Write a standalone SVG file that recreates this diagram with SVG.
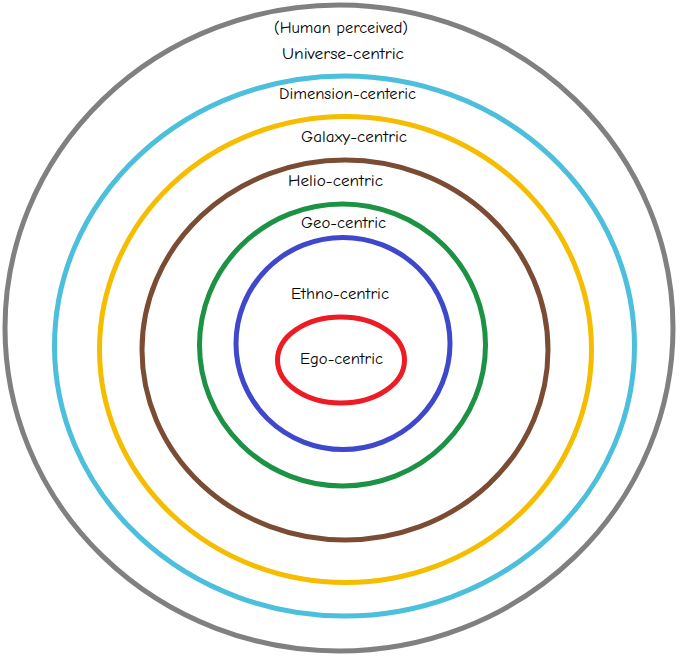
<svg xmlns="http://www.w3.org/2000/svg" width="682" height="659" viewBox="0 0 682 659">
<style>
.ring{fill:none;stroke-width:5}
.lbl{font-family:"Comic Sans MS","Comic Neue","DejaVu Sans","Noto Sans",sans-serif;font-size:15px;fill:#000;text-anchor:middle}
</style>
<rect width="682" height="659" fill="#fff"/>
<g id="universe"><ellipse class="ring" cx="339" cy="328" rx="334" ry="323" stroke="#808080"/></g>
<g id="dimension"><ellipse class="ring" cx="344.5" cy="346" rx="290" ry="270" stroke="#4bbfdb"/></g>
<g id="galaxy"><ellipse class="ring" cx="345.5" cy="349.5" rx="246" ry="233" stroke="#f5bd00"/></g>
<g id="helio"><ellipse class="ring" cx="345" cy="350" rx="203" ry="190" stroke="#7b4c34"/></g>
<g id="geo"><ellipse class="ring" cx="342.5" cy="345" rx="143" ry="141" stroke="#1c9244"/></g>
<g id="ethno"><ellipse class="ring" cx="343" cy="343.5" rx="107" ry="106" stroke="#3f48cc"/></g>
<g id="ego"><ellipse class="ring" cx="341" cy="360" rx="63.5" ry="43" stroke="#ed1c24"/></g>
<g id="labels">
<text class="lbl" x="341" y="33" textLength="134" lengthAdjust="spacingAndGlyphs">(Human perceived)</text>
<text class="lbl" x="343" y="59" textLength="122" lengthAdjust="spacingAndGlyphs">Universe-centric</text>
<text class="lbl" x="347.5" y="99" textLength="137" lengthAdjust="spacingAndGlyphs">Dimension-centeric</text>
<text class="lbl" x="354" y="141.5" textLength="106" lengthAdjust="spacingAndGlyphs">Galaxy-centric</text>
<text class="lbl" x="335.5" y="186" textLength="95" lengthAdjust="spacingAndGlyphs">Helio-centric</text>
<text class="lbl" x="343.5" y="228" textLength="85" lengthAdjust="spacingAndGlyphs">Geo-centric</text>
<text class="lbl" x="340" y="299" textLength="98" lengthAdjust="spacingAndGlyphs">Ethno-centric</text>
<text class="lbl" x="341.5" y="364" textLength="83" lengthAdjust="spacingAndGlyphs">Ego-centric</text>
</g>
</svg>
